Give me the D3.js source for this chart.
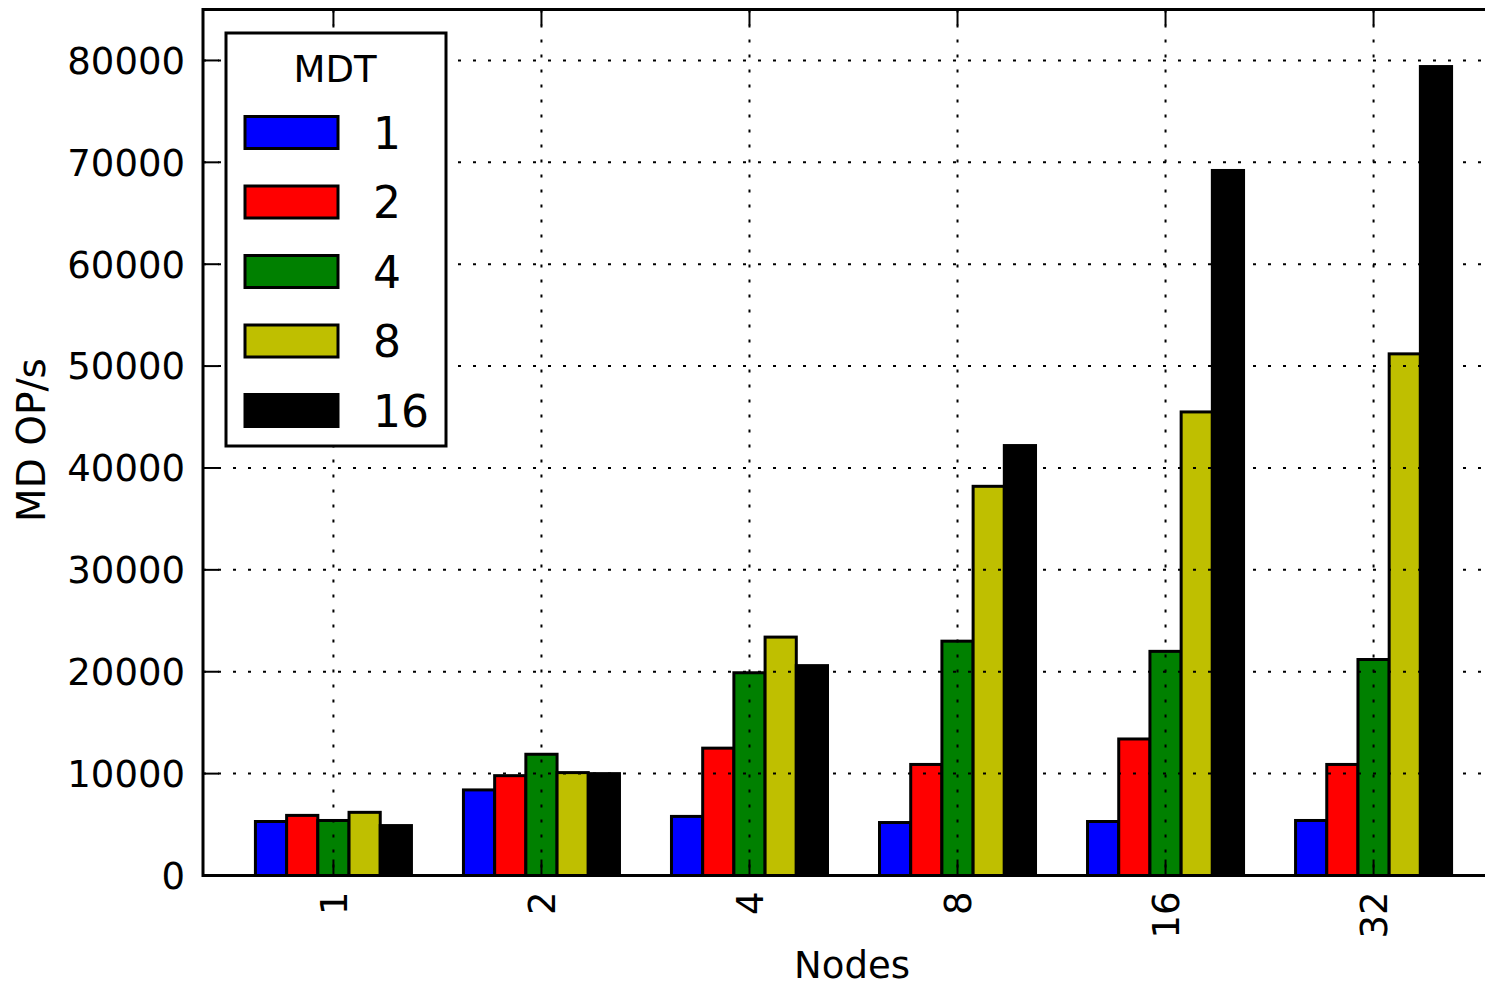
<!DOCTYPE html>
<html>
<head>
<meta charset="utf-8">
<script src="https://cdn.jsdelivr.net/npm/d3@7"></script>
<style>
  html, body { margin: 0; padding: 0; background: #fff; }
  svg text { font-family: "DejaVu Sans", sans-serif; fill: #000; }
</style>
</head>
<body>
<svg id="chart" width="1485" height="987"></svg>
<script>
// Metadata throughput per node count, one series per MDT count
const nodes = ["1", "2", "4", "8", "16", "32"];
const mdtLabels = ["1", "2", "4", "8", "16"];
const mdtColors = ["#0000ff", "#ff0000", "#008000", "#bfbf00", "#000000"];

const mdt1  = [5300, 8400, 5800, 5200, 5300, 5400];
const mdt2  = [5900, 9800, 12500, 10900, 13400, 10900];
const mdt4  = [5400, 11900, 19900, 23000, 22000, 21200];
const mdt8  = [6200, 10100, 23400, 38200, 45500, 51200];
const mdt16 = [4900, 10000, 20600, 42200, 69200, 79400];
const series = [mdt1, mdt2, mdt4, mdt8, mdt16];

const yTicks = [0, 10000, 20000, 30000, 40000, 50000, 60000, 70000, 80000];

const svg = d3.select("#chart");
const plotL = 203, plotT = 9.5, plotB = 875.5, plotR = 1504;
const barW = 0.15;

const x = d3.scaleLinear().domain([-0.627, nodes.length - 1 + 0.627]).range([plotL, plotR]);
const y = d3.scaleLinear().domain([0, 85000]).range([plotB, plotT]);

// Bars
series.forEach((vals, si) => {
  svg.append("g")
    .selectAll("rect")
    .data(vals)
    .join("rect")
    .attr("x", (d, i) => x(i + (si - 2.5) * barW))
    .attr("width", x(barW) - x(0))
    .attr("y", d => y(d))
    .attr("height", d => y(0) - y(d))
    .attr("fill", mdtColors[si])
    .attr("stroke", "#000")
    .attr("stroke-width", 3);
});

// Dotted grid, drawn over the bars
const grid = svg.append("g").attr("stroke", "#000").attr("stroke-width", 2)
  .attr("stroke-dasharray", "3,12");
grid.selectAll("line.h").data(yTicks.slice(1)).join("line").attr("class", "h")
  .attr("x1", plotL).attr("x2", plotR)
  .attr("y1", d => y(d)).attr("y2", d => y(d));
grid.selectAll("line.v").data(nodes).join("line").attr("class", "v")
  .attr("x1", (d, i) => x(i)).attr("x2", (d, i) => x(i))
  .attr("y1", plotT).attr("y2", plotB);

// Inward ticks on all four sides
const tickLen = 16;
const ticks = svg.append("g").attr("stroke", "#000").attr("stroke-width", 2);
yTicks.forEach(v => {
  ticks.append("line").attr("x1", plotL).attr("x2", plotL + tickLen).attr("y1", y(v)).attr("y2", y(v));
  ticks.append("line").attr("x1", plotR).attr("x2", plotR - tickLen).attr("y1", y(v)).attr("y2", y(v));
});
nodes.forEach((n, i) => {
  ticks.append("line").attr("x1", x(i)).attr("x2", x(i)).attr("y1", plotB).attr("y2", plotB - tickLen);
  ticks.append("line").attr("x1", x(i)).attr("x2", x(i)).attr("y1", plotT).attr("y2", plotT + tickLen);
});

// Frame
svg.append("rect")
  .attr("x", plotL).attr("y", plotT)
  .attr("width", plotR - plotL).attr("height", plotB - plotT)
  .attr("fill", "none").attr("stroke", "#000").attr("stroke-width", 3);

// Y tick labels
svg.append("g").selectAll("text").data(yTicks).join("text")
  .attr("x", plotL - 18)
  .attr("y", d => y(d))
  .attr("dy", "0.36em")
  .attr("text-anchor", "end")
  .attr("font-size", 37)
  .text(d => d);

// X tick labels, rotated
svg.append("g").selectAll("text").data(nodes).join("text")
  .attr("transform", (d, i) => `translate(${x(i)},${plotB + 16}) rotate(-90)`)
  .attr("dy", "0.36em")
  .attr("text-anchor", "end")
  .attr("font-size", 37)
  .text(d => d);

// Axis titles
svg.append("text")
  .attr("transform", "translate(45,440) rotate(-90)")
  .attr("text-anchor", "middle")
  .attr("font-size", 39)
  .text("MD OP/s");
svg.append("text")
  .attr("x", 852).attr("y", 978)
  .attr("text-anchor", "middle")
  .attr("font-size", 37)
  .text("Nodes");

// Legend
const lg = svg.append("g");
lg.append("rect")
  .attr("x", 226).attr("y", 33).attr("width", 220).attr("height", 413)
  .attr("fill", "#fff").attr("stroke", "#000").attr("stroke-width", 3);
lg.append("text")
  .attr("x", 335).attr("y", 82)
  .attr("text-anchor", "middle")
  .attr("font-size", 37)
  .text("MDT");
mdtLabels.forEach((lab, i) => {
  const cy = 132.5 + i * 69.5;
  lg.append("rect")
    .attr("x", 245).attr("y", cy - 16).attr("width", 93).attr("height", 32)
    .attr("fill", mdtColors[i]).attr("stroke", "#000").attr("stroke-width", 3);
  lg.append("text")
    .attr("x", 373).attr("y", cy + 16)
    .attr("font-size", 44)
    .text(lab);
});
</script>
</body>
</html>
